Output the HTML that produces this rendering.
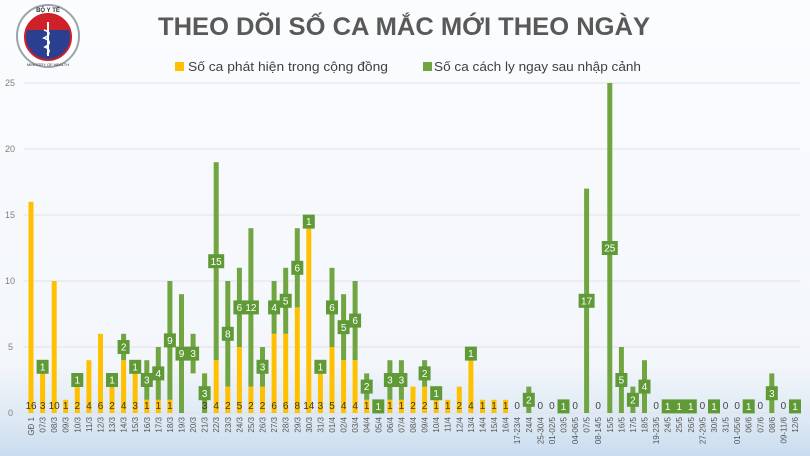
<!DOCTYPE html>
<html><head><meta charset="utf-8"><style>
html,body{margin:0;padding:0;width:810px;height:456px;overflow:hidden}
body{background:linear-gradient(#fbfcfe 0%,#f3f6fb 80%,#dbe7f3 93%,#c9dcef 100%);font-family:"Liberation Sans","DejaVu Sans",sans-serif}
</style></head><body>
<svg width="810" height="456" viewBox="0 0 810 456" xmlns="http://www.w3.org/2000/svg" font-family="Liberation Sans, DejaVu Sans, sans-serif">
<!-- logo -->
<circle cx="48" cy="36" r="31" fill="#fff" stroke="#9aa3ad" stroke-width="2"/>
<circle cx="48" cy="37" r="23" fill="#2a3f8f" stroke="#c8202c" stroke-width="2"/>
<path d="M26 30 A23 23 0 0 1 70 30 Z" fill="#d0202a"/>
<line x1="48" y1="22" x2="48" y2="56" stroke="#fff" stroke-width="2"/>
<path d="M44 30 Q54 33 44 38 Q54 42 45 47 Q52 50 47 54" stroke="#fff" stroke-width="1.6" fill="none"/>
<text x="48" y="12" font-size="6" text-anchor="middle" fill="#333" font-weight="bold">BỘ Y TẾ</text>
<text x="48" y="66" font-size="4" text-anchor="middle" fill="#333">MINISTRY OF HEALTH</text>
<!-- title -->
<text x="158" y="35" font-size="25" font-weight="bold" fill="#595959" textLength="492" lengthAdjust="spacingAndGlyphs">THEO DÕI SỐ CA MẮC MỚI THEO NGÀY</text>
<rect x="175" y="62" width="9" height="9" fill="#ffc000"/>
<text x="188" y="71" font-size="13" fill="#404040" textLength="200" lengthAdjust="spacingAndGlyphs">Số ca phát hiện trong cộng đồng</text>
<rect x="423" y="62" width="9" height="9" fill="#70a541"/>
<text x="434" y="71" font-size="13" fill="#404040" textLength="207" lengthAdjust="spacingAndGlyphs">Số ca cách ly ngay sau nhập cảnh</text>
<!-- grid -->
<g stroke="#dfe3e8" stroke-width="1">
<line x1="24" y1="83" x2="800" y2="83"/><line x1="24" y1="149" x2="800" y2="149"/>
<line x1="24" y1="215" x2="800" y2="215"/><line x1="24" y1="281" x2="800" y2="281"/>
<line x1="24" y1="347" x2="800" y2="347"/><line x1="24" y1="413" x2="800" y2="413"/>
</g>
<g font-size="9" fill="#7f7f7f">
<text x="5" y="86">25</text><text x="5" y="152">20</text><text x="5" y="218">15</text>
<text x="5" y="284">10</text><text x="8" y="350">5</text><text x="8" y="416">0</text>
</g>
<!-- bars (unit coords) -->
<g transform="translate(0,413) scale(1,-13.2)">
<g fill="#ffc000">
<rect x="28.5" y="0" width="5" height="16"/><rect x="40.1" y="0" width="5" height="3"/>
<rect x="51.7" y="0" width="5" height="10"/><rect x="63.2" y="0" width="5" height="1"/>
<rect x="74.8" y="0" width="5" height="2"/><rect x="86.4" y="0" width="5" height="4"/>
<rect x="98" y="0" width="5" height="6"/><rect x="109.5" y="0" width="5" height="2"/>
<rect x="121.1" y="0" width="5" height="4"/><rect x="132.7" y="0" width="5" height="3"/>
<rect x="144.3" y="0" width="5" height="1"/><rect x="155.8" y="0" width="5" height="1"/>
<rect x="167.4" y="0" width="5" height="1"/><rect x="202.1" y="0" width="5" height="3"/>
<rect x="213.7" y="0" width="5" height="4"/><rect x="225.3" y="0" width="5" height="2"/>
<rect x="236.9" y="0" width="5" height="5"/><rect x="248.4" y="0" width="5" height="2"/>
<rect x="260" y="0" width="5" height="2"/><rect x="271.6" y="0" width="5" height="6"/>
<rect x="283.2" y="0" width="5" height="6"/><rect x="294.8" y="0" width="5" height="8"/>
<rect x="306.3" y="0" width="5" height="14"/><rect x="317.9" y="0" width="5" height="3"/>
<rect x="329.5" y="0" width="5" height="5"/><rect x="341.1" y="0" width="5" height="4"/>
<rect x="352.6" y="0" width="5" height="4"/><rect x="364.2" y="0" width="5" height="1"/>
<rect x="387.4" y="0" width="5" height="1"/><rect x="398.9" y="0" width="5" height="1"/>
<rect x="410.5" y="0" width="5" height="2"/><rect x="422.1" y="0" width="5" height="2"/>
<rect x="433.7" y="0" width="5" height="1"/><rect x="445.2" y="0" width="5" height="1"/>
<rect x="456.8" y="0" width="5" height="2"/><rect x="468.4" y="0" width="5" height="4"/>
<rect x="480" y="0" width="5" height="1"/><rect x="491.5" y="0" width="5" height="1"/>
<rect x="503.1" y="0" width="5" height="1"/>
</g>
<g fill="#70a541">
<rect x="40.1" y="3" width="5" height="1"/><rect x="74.8" y="2" width="5" height="1"/>
<rect x="109.5" y="2" width="5" height="1"/><rect x="121.1" y="4" width="5" height="2"/>
<rect x="132.7" y="3" width="5" height="1"/><rect x="144.3" y="1" width="5" height="3"/>
<rect x="155.8" y="1" width="5" height="4"/><rect x="167.4" y="1" width="5" height="9"/>
<rect x="179" y="0" width="5" height="9"/><rect x="190.6" y="3" width="5" height="3"/>
<rect x="202.1" y="0" width="5" height="3"/><rect x="213.7" y="4" width="5" height="15"/>
<rect x="225.3" y="2" width="5" height="8"/><rect x="236.9" y="5" width="5" height="6"/>
<rect x="248.4" y="2" width="5" height="12"/><rect x="260" y="2" width="5" height="3"/>
<rect x="271.6" y="6" width="5" height="4"/><rect x="283.2" y="6" width="5" height="5"/>
<rect x="294.8" y="8" width="5" height="6"/><rect x="306.3" y="14" width="5" height="1"/>
<rect x="317.9" y="3" width="5" height="1"/><rect x="329.5" y="5" width="5" height="6"/>
<rect x="341.1" y="4" width="5" height="5"/><rect x="352.6" y="4" width="5" height="6"/>
<rect x="364.2" y="1" width="5" height="2"/><rect x="375.8" y="0" width="5" height="1"/>
<rect x="387.4" y="1" width="5" height="3"/><rect x="398.9" y="1" width="5" height="3"/>
<rect x="422.1" y="2" width="5" height="2"/><rect x="433.7" y="1" width="5" height="1"/>
<rect x="468.4" y="4" width="5" height="1"/><rect x="526.3" y="0" width="5" height="2"/>
<rect x="561" y="0" width="5" height="1"/><rect x="584.1" y="0" width="5" height="17"/>
<rect x="607.3" y="0" width="5" height="25"/><rect x="618.9" y="0" width="5" height="5"/>
<rect x="630.4" y="0" width="5" height="2"/><rect x="642" y="0" width="5" height="4"/>
<rect x="665.2" y="0" width="5" height="1"/><rect x="676.7" y="0" width="5" height="1"/>
<rect x="688.3" y="0" width="5" height="1"/><rect x="711.5" y="0" width="5" height="1"/>
<rect x="746.2" y="0" width="5" height="1"/><rect x="769.3" y="0" width="5" height="3"/>
<rect x="792.5" y="0" width="5" height="1"/>
</g>
</g>
<!-- yellow labels -->
<g font-size="10" fill="#3a3a1a" text-anchor="middle">
<text x="31" y="409">16</text><text x="42.6" y="409">3</text><text x="54.2" y="409">10</text>
<text x="65.7" y="409">1</text><text x="77.3" y="409">2</text><text x="88.9" y="409">4</text>
<text x="100.5" y="409">6</text><text x="112" y="409">2</text><text x="123.6" y="409">4</text>
<text x="135.2" y="409">3</text><text x="146.8" y="409">1</text><text x="158.3" y="409">1</text>
<text x="169.9" y="409">1</text><text x="204.6" y="409">3</text><text x="216.2" y="409">4</text>
<text x="227.8" y="409">2</text><text x="239.4" y="409">5</text><text x="250.9" y="409">2</text>
<text x="262.5" y="409">2</text><text x="274.1" y="409">6</text><text x="285.7" y="409">6</text>
<text x="297.3" y="409">8</text><text x="308.8" y="409">14</text><text x="320.4" y="409">3</text>
<text x="332" y="409">5</text><text x="343.6" y="409">4</text><text x="355.1" y="409">4</text>
<text x="366.7" y="409">1</text><text x="389.9" y="409">1</text><text x="401.4" y="409">1</text>
<text x="413" y="409">2</text><text x="424.6" y="409">2</text><text x="436.2" y="409">1</text>
<text x="447.7" y="409">1</text><text x="459.3" y="409">2</text><text x="470.9" y="409">4</text>
<text x="482.5" y="409">1</text><text x="494" y="409">1</text><text x="505.6" y="409">1</text>
</g>
<g font-size="10" fill="#444" text-anchor="middle">
<text x="517.2" y="409">0</text><text x="540.3" y="409">0</text><text x="551.9" y="409">0</text>
<text x="575.1" y="409">0</text><text x="598.2" y="409">0</text><text x="656.1" y="409">0</text>
<text x="702.4" y="409">0</text><text x="725.5" y="409">0</text><text x="737.1" y="409">0</text>
<text x="760.3" y="409">0</text><text x="783.4" y="409">0</text>
</g>
<!-- green label boxes -->
<g fill="#5f9a36">
<rect x="36.6" y="359.8" width="12" height="14"/><rect x="71.3" y="373" width="12" height="14"/>
<rect x="106" y="373" width="12" height="14"/><rect x="117.6" y="340" width="12" height="14"/>
<rect x="129.2" y="359.8" width="12" height="14"/><rect x="140.8" y="373" width="12" height="14"/>
<rect x="152.3" y="366.4" width="12" height="14"/><rect x="163.9" y="333.4" width="12" height="14"/>
<rect x="175.5" y="346.6" width="12" height="14"/><rect x="187.1" y="346.6" width="12" height="14"/>
<rect x="198.6" y="386.2" width="12" height="14"/><rect x="208.2" y="254.2" width="16" height="14"/>
<rect x="221.8" y="326.8" width="12" height="14"/><rect x="233.4" y="300.4" width="12" height="14"/>
<rect x="242.9" y="300.4" width="16" height="14"/><rect x="256.5" y="359.8" width="12" height="14"/>
<rect x="268.1" y="300.4" width="12" height="14"/><rect x="279.7" y="293.8" width="12" height="14"/>
<rect x="291.3" y="260.8" width="12" height="14"/><rect x="302.8" y="214.6" width="12" height="14"/>
<rect x="314.4" y="359.8" width="12" height="14"/><rect x="326" y="300.4" width="12" height="14"/>
<rect x="337.6" y="320.2" width="12" height="14"/><rect x="349.1" y="313.6" width="12" height="14"/>
<rect x="360.7" y="379.6" width="12" height="14"/><rect x="372.3" y="399.4" width="12" height="14"/>
<rect x="383.9" y="373" width="12" height="14"/><rect x="395.4" y="373" width="12" height="14"/>
<rect x="418.6" y="366.4" width="12" height="14"/><rect x="430.2" y="386.2" width="12" height="14"/>
<rect x="464.9" y="346.6" width="12" height="14"/><rect x="522.8" y="392.8" width="12" height="14"/>
<rect x="557.5" y="399.4" width="12" height="14"/><rect x="578.6" y="293.8" width="16" height="14"/>
<rect x="601.8" y="241" width="16" height="14"/><rect x="615.4" y="373" width="12" height="14"/>
<rect x="626.9" y="392.8" width="12" height="14"/><rect x="638.5" y="379.6" width="12" height="14"/>
<rect x="661.7" y="399.4" width="12" height="14"/><rect x="673.2" y="399.4" width="12" height="14"/>
<rect x="684.8" y="399.4" width="12" height="14"/><rect x="708" y="399.4" width="12" height="14"/>
<rect x="742.7" y="399.4" width="12" height="14"/><rect x="765.8" y="386.2" width="12" height="14"/>
<rect x="789" y="399.4" width="12" height="14"/>
</g>
<g font-size="10" fill="#fff" text-anchor="middle">
<text x="42.6" y="370.4">1</text><text x="77.3" y="383.6">1</text><text x="112" y="383.6">1</text>
<text x="123.6" y="350.6">2</text><text x="135.2" y="370.4">1</text><text x="146.8" y="383.6">3</text>
<text x="158.3" y="377">4</text><text x="169.9" y="344">9</text><text x="181.5" y="357.2">9</text>
<text x="193.1" y="357.2">3</text><text x="204.6" y="396.8">3</text><text x="216.2" y="264.8">15</text>
<text x="227.8" y="337.4">8</text><text x="239.4" y="311">6</text><text x="250.9" y="311">12</text>
<text x="262.5" y="370.4">3</text><text x="274.1" y="311">4</text><text x="285.7" y="304.4">5</text>
<text x="297.3" y="271.4">6</text><text x="308.8" y="225.2">1</text><text x="320.4" y="370.4">1</text>
<text x="332" y="311">6</text><text x="343.6" y="330.8">5</text><text x="355.1" y="324.2">6</text>
<text x="366.7" y="390.2">2</text><text x="378.3" y="410">1</text><text x="389.9" y="383.6">3</text>
<text x="401.4" y="383.6">3</text><text x="424.6" y="377">2</text><text x="436.2" y="396.8">1</text>
<text x="470.9" y="357.2">1</text><text x="528.8" y="403.4">2</text><text x="563.5" y="410">1</text>
<text x="586.6" y="304.4">17</text><text x="609.8" y="251.6">25</text><text x="621.4" y="383.6">5</text>
<text x="632.9" y="403.4">2</text><text x="644.5" y="390.2">4</text><text x="667.7" y="410">1</text>
<text x="679.2" y="410">1</text><text x="690.8" y="410">1</text><text x="714" y="410">1</text>
<text x="748.7" y="410">1</text><text x="771.8" y="396.8">3</text><text x="795" y="410">1</text>
</g>
<!-- x labels -->
<g font-size="8" fill="#555" text-anchor="end">
<text transform="translate(34,417) rotate(-90)">GĐ 1</text>
<text transform="translate(45.6,417) rotate(-90)">07/3</text>
<text transform="translate(57.2,417) rotate(-90)">08/3</text>
<text transform="translate(68.7,417) rotate(-90)">09/3</text>
<text transform="translate(80.3,417) rotate(-90)">10/3</text>
<text transform="translate(91.9,417) rotate(-90)">11/3</text>
<text transform="translate(103.5,417) rotate(-90)">12/3</text>
<text transform="translate(115,417) rotate(-90)">13/3</text>
<text transform="translate(126.6,417) rotate(-90)">14/3</text>
<text transform="translate(138.2,417) rotate(-90)">15/3</text>
<text transform="translate(149.8,417) rotate(-90)">16/3</text>
<text transform="translate(161.3,417) rotate(-90)">17/3</text>
<text transform="translate(172.9,417) rotate(-90)">18/3</text>
<text transform="translate(184.5,417) rotate(-90)">19/3</text>
<text transform="translate(196.1,417) rotate(-90)">20/3</text>
<text transform="translate(207.6,417) rotate(-90)">21/3</text>
<text transform="translate(219.2,417) rotate(-90)">22/3</text>
<text transform="translate(230.8,417) rotate(-90)">23/3</text>
<text transform="translate(242.4,417) rotate(-90)">24/3</text>
<text transform="translate(253.9,417) rotate(-90)">25/3</text>
<text transform="translate(265.5,417) rotate(-90)">26/3</text>
<text transform="translate(277.1,417) rotate(-90)">27/3</text>
<text transform="translate(288.7,417) rotate(-90)">28/3</text>
<text transform="translate(300.3,417) rotate(-90)">29/3</text>
<text transform="translate(311.8,417) rotate(-90)">30/3</text>
<text transform="translate(323.4,417) rotate(-90)">31/3</text>
<text transform="translate(335,417) rotate(-90)">01/4</text>
<text transform="translate(346.6,417) rotate(-90)">02/4</text>
<text transform="translate(358.1,417) rotate(-90)">03/4</text>
<text transform="translate(369.7,417) rotate(-90)">04/4</text>
<text transform="translate(381.3,417) rotate(-90)">05/4</text>
<text transform="translate(392.9,417) rotate(-90)">06/4</text>
<text transform="translate(404.4,417) rotate(-90)">07/4</text>
<text transform="translate(416,417) rotate(-90)">08/4</text>
<text transform="translate(427.6,417) rotate(-90)">09/4</text>
<text transform="translate(439.2,417) rotate(-90)">10/4</text>
<text transform="translate(450.7,417) rotate(-90)">11/4</text>
<text transform="translate(462.3,417) rotate(-90)">12/4</text>
<text transform="translate(473.9,417) rotate(-90)">13/4</text>
<text transform="translate(485.5,417) rotate(-90)">14/4</text>
<text transform="translate(497,417) rotate(-90)">15/4</text>
<text transform="translate(508.6,417) rotate(-90)">16/4</text>
<text transform="translate(520.2,417) rotate(-90)">17-23/4</text>
<text transform="translate(531.8,417) rotate(-90)">24/4</text>
<text transform="translate(543.3,417) rotate(-90)">25-30/4</text>
<text transform="translate(554.9,417) rotate(-90)">01-02/5</text>
<text transform="translate(566.5,417) rotate(-90)">03/5</text>
<text transform="translate(578.1,417) rotate(-90)">04-06/5</text>
<text transform="translate(589.6,417) rotate(-90)">07/5</text>
<text transform="translate(601.2,417) rotate(-90)">08-14/5</text>
<text transform="translate(612.8,417) rotate(-90)">15/5</text>
<text transform="translate(624.4,417) rotate(-90)">16/5</text>
<text transform="translate(635.9,417) rotate(-90)">17/5</text>
<text transform="translate(647.5,417) rotate(-90)">18/5</text>
<text transform="translate(659.1,417) rotate(-90)">19-23/5</text>
<text transform="translate(670.7,417) rotate(-90)">24/5</text>
<text transform="translate(682.2,417) rotate(-90)">25/5</text>
<text transform="translate(693.8,417) rotate(-90)">26/5</text>
<text transform="translate(705.4,417) rotate(-90)">27-29/5</text>
<text transform="translate(717,417) rotate(-90)">30/5</text>
<text transform="translate(728.5,417) rotate(-90)">31/5</text>
<text transform="translate(740.1,417) rotate(-90)">01-05/6</text>
<text transform="translate(751.7,417) rotate(-90)">06/6</text>
<text transform="translate(763.3,417) rotate(-90)">07/6</text>
<text transform="translate(774.8,417) rotate(-90)">08/6</text>
<text transform="translate(786.4,417) rotate(-90)">09-11/6</text>
<text transform="translate(798,417) rotate(-90)">12/6</text>
</g>
</svg>
</body></html>
